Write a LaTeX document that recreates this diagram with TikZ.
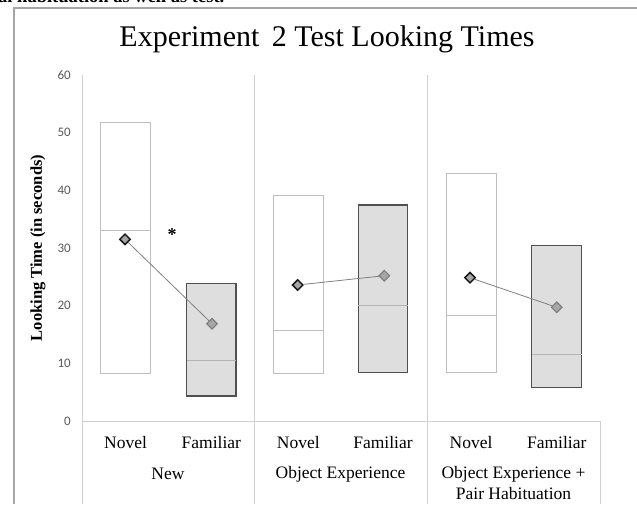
\documentclass[tikz,border=0pt]{standalone}
\usepackage{fontspec}
\setmainfont{Liberation Serif}
\newfontfamily\tickfont{Carlito}
\usetikzlibrary{shapes.geometric}
\definecolor{gridc}{HTML}{D0D0D0}
\definecolor{framec}{HTML}{A6A6A6}
\definecolor{novc}{HTML}{BFBFBF}
\definecolor{famfill}{HTML}{DEDEDE}
\definecolor{famdraw}{HTML}{505050}
\definecolor{fammed}{HTML}{B4B4B4}
\definecolor{dmfill}{HTML}{A6A6A6}
\definecolor{tickc}{HTML}{595959}
\tikzset{
  novbox/.style={draw=novc, line width=1pt, fill=white},
  fambox/.style={draw=famdraw, line width=1.5pt, fill=famfill},
  novmed/.style={draw=novc, line width=1pt},
  fammed/.style={draw=fammed, line width=1pt},
  dnov/.style={diamond, draw=black!90, line width=1.5pt, fill=dmfill, minimum width=11pt, minimum height=11pt, inner sep=0pt},
  dfam/.style={diamond, draw=black!50, line width=1.2pt, fill=dmfill, minimum width=11pt, minimum height=11pt, inner sep=0pt},
  conn/.style={draw=black!50, line width=0.8pt},
  gridl/.style={draw=gridc, line width=1pt},
  ticklab/.style={anchor=east, text=tickc, font=\tickfont\fontsize{13}{15}\selectfont, inner sep=0pt},
  catlab/.style={font=\fontsize{17.5}{20}\selectfont, inner sep=0pt},
}
\begin{document}
\begin{tikzpicture}[x=1pt, y=-1pt]
\useasboundingbox (0,0) rectangle (637,504);
% partial text at very top (cut off in the reference)
\begin{scope}
\clip (0,0) rectangle (637,504);
\node[anchor=base west, inner sep=0pt, font=\bfseries\fontsize{18.5}{21}\selectfont] (toptext) at (-2,2.5) {al habituation as well as test.};
\end{scope}
% frame
\draw[draw=framec, line width=1.2pt] (14,504) -- (14,8) -- (640,8);
% title
\node[anchor=base, inner sep=0pt, font=\fontsize{30}{34}\selectfont] (title) at (327,46) {Experiment\, 2 Test Looking Times};
% axes/grid
\draw[gridl] (82,75) -- (82,504);
\draw[gridl] (254,75) -- (254,504);
\draw[gridl] (427,75) -- (427,504);
\draw[gridl] (82,421) -- (600,421) -- (600,504);
% tick labels
\foreach \v [count=\i from 0] in {0,10,20,30,40,50,60} {
  \node[ticklab] (tick\i) at (71,{421-5.77*\v}) {\v};
}
% y label
\node[rotate=90, inner sep=0pt, font=\bfseries\fontsize{16.5}{19}\selectfont] (ylab) at (38,248) {Looking Time (in seconds)};
% boxes group 1
\draw[novbox] (100.5,122.3) rectangle (150.5,373.3);
\draw[novmed] (100.5,230) -- (150.5,230);
\draw[fambox] (186.5,283.3) rectangle (236,396);
\draw[fammed] (186.5,360) -- (236,360);
% group 2
\draw[novbox] (273.3,195) rectangle (323.3,373.3);
\draw[novmed] (273.3,330) -- (323.3,330);
\draw[fambox] (358.3,205) rectangle (407.7,372.7);
\draw[fammed] (358.3,305.7) -- (407.7,305.7);
% group 3
\draw[novbox] (446,173.3) rectangle (496,372.3);
\draw[novmed] (446,315.7) -- (496,315.7);
\draw[fambox] (531.7,245.7) rectangle (581.7,387.3);
\draw[fammed] (531.7,354) -- (581.7,354);
% diamonds
\node[dnov] (n1) at (125,239.3) {};
\node[dfam] (f1) at (212,323.7) {};
\node[dnov] (n2) at (297.7,285) {};
\node[dfam] (f2) at (384.3,275.7) {};
\node[dnov] (n3) at (470,277.7) {};
\node[dfam] (f3) at (556.7,307.3) {};
\draw[conn] (n1) -- (f1);
\draw[conn] (n2) -- (f2);
\draw[conn] (n3) -- (f3);
% star
\node[inner sep=0pt, font=\bfseries\fontsize{18}{20}\selectfont] (star) at (172,235) {*};
% category labels
\node[catlab] (ln1) at (125.5,443) {Novel};
\node[catlab] (lf1) at (211.3,443) {Familiar};
\node[catlab] (ln2) at (298.3,443) {Novel};
\node[catlab] (lf2) at (383,443) {Familiar};
\node[catlab] (ln3) at (471,443) {Novel};
\node[catlab] (lf3) at (556.7,443) {Familiar};
\node[catlab] (g1) at (168,474) {New};
\node[catlab] (g2) at (340.5,474) {Object Experience};
\node[catlab] (g3) at (513.5,474) {Object Experience +};
\node[catlab] (g3b) at (513.5,494) {Pair Habituation};
\end{tikzpicture}
\end{document}
